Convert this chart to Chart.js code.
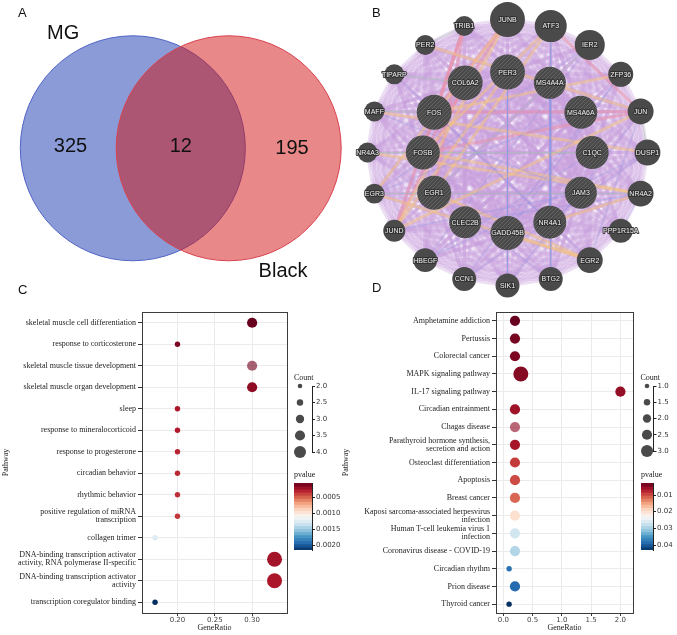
<!DOCTYPE html>
<html>
<head>
<meta charset="utf-8">
<title>Figure</title>
<script src="https://cdn.jsdelivr.net/npm/chart.js@4.4.1/dist/chart.umd.min.js"></script>
<style>
  body { margin: 0; background: #fff; }
  #fig { position: relative; width: 677px; height: 635px; overflow: hidden; background: #fff; }
  #fig canvas { position: absolute; }
  .tag { position: absolute; font: 13px "Liberation Sans", Arial, sans-serif; line-height: 13px; color: #111; }
</style>
</head>
<body>
<div id="fig">
  <canvas id="venn" width="350" height="300" style="left:0;top:0"></canvas>
  <canvas id="net" width="332" height="300" style="left:345px;top:0"></canvas>
  <canvas id="dotC" width="300" height="335" style="left:0;top:300px"></canvas>
  <canvas id="cntC" width="60" height="100" style="left:280px;top:368px"></canvas>
  <canvas id="barC" width="75" height="95" style="left:285px;top:465px"></canvas>
  <canvas id="dotD" width="307" height="335" style="left:338px;top:300px"></canvas>
  <canvas id="cntD" width="50" height="100" style="left:627px;top:368px"></canvas>
  <canvas id="barD" width="45" height="95" style="left:632px;top:465px"></canvas>
  <div class="tag" style="left:18px;top:6px">A</div>
  <div class="tag" style="left:372px;top:6px">B</div>
  <div class="tag" style="left:18px;top:283px">C</div>
  <div class="tag" style="left:372px;top:281px">D</div>
</div>
<script>
// ---- A: venn ----
var vennSets = ['MG', 'Black'];
var vennOnly = [325, 195];
var vennBoth = 12;

// ---- B: gene network (GeneMANIA style, circular layout) ----
var outerGenes = ['JUNB', 'ATF3', 'IER2', 'ZFP36', 'JUN', 'DUSP1', 'NR4A2', 'PPP1R15A', 'EGR2', 'BTG2',
                  'SIK1', 'CCN1', 'HBEGF', 'JUND', 'EGR3', 'NR4A3', 'MAFF', 'TIPARP', 'PER2', 'TRIB1'];
var outerScore = [0.94, 0.78, 0.67, 0.39, 0.44, 0.44, 0.44, 0.33, 0.44, 0.33,
                  0.33, 0.33, 0.33, 0.22, 0.11, 0.11, 0.11, 0.11, 0.11, 0.11];
var innerGenes = ['PER3', 'MS4A4A', 'MS4A6A', 'C1QC', 'JAM3', 'NR4A1', 'GADD45B', 'CLEC2B', 'EGR1', 'FOSB', 'FOS', 'COL6A2'];
var innerScore = [0.94, 0.78, 0.83, 0.83, 0.78, 0.83, 0.89, 0.78, 0.89, 0.89, 0.94, 0.94];

var physicalEdges = [['TRIB1', 'JUND'], ['TRIB1', 'EGR1'], ['FOSB', 'JUN'], ['FOS', 'JUN'], ['JUNB', 'FOSB'],
                     ['COL6A2', 'JUND'], ['ATF3', 'JUN'], ['FOS', 'JUNB'], ['TRIB1', 'FOSB']];
var predictedEdges = [['PER2', 'JUN'], ['JUNB', 'JUND'], ['ATF3', 'EGR1'], ['EGR3', 'EGR2'], ['NR4A3', 'NR4A2'],
                      ['JUND', 'JUN'], ['ATF3', 'FOSB'], ['JUNB', 'EGR3'], ['PER3', 'JUND'], ['NR4A1', 'NR4A2'],
                      ['GADD45B', 'EGR2'], ['FOSB', 'NR4A2'], ['ZFP36', 'FOS'], ['EGR1', 'EGR2'], ['MAFF', 'DUSP1']];
var colocEdges = [['IER2', 'HBEGF'], ['ZFP36', 'CCN1'], ['ATF3', 'BTG2'], ['JUN', 'SIK1'], ['DUSP1', 'CCN1'],
                  ['MS4A4A', 'NR4A1'], ['MS4A6A', 'EGR3'], ['C1QC', 'HBEGF'], ['JAM3', 'JUND'], ['IER2', 'EGR3'],
                  ['NR4A2', 'PPP1R15A'], ['JUN', 'EGR2'], ['PER3', 'SIK1'], ['EGR1', 'BTG2'], ['FOS', 'EGR2'],
                  ['MAFF', 'JAM3'], ['TIPARP', 'NR4A1'], ['DUSP1', 'HBEGF'], ['ZFP36', 'GADD45B'], ['CLEC2B', 'NR4A2']];
var geneticEdges = [['TIPARP', 'COL6A2'], ['MAFF', 'FOS'], ['NR4A3', 'C1QC'], ['EGR3', 'NR4A2'],
                    ['PER2', 'TRIB1'], ['IER2', 'EGR1'], ['JUN', 'DUSP1']];

// ---- C: GO enrichment ----
var pathwaysC = ['skeletal muscle cell differentiation', 'response to corticosterone',
  'skeletal muscle tissue development', 'skeletal muscle organ development', 'sleep',
  'response to mineralocorticoid', 'response to progesterone', 'circadian behavior', 'rhythmic behavior',
  ['positive regulation of miRNA', 'transcription'], 'collagen trimer',
  ['DNA-binding transcription activator', 'activity, RNA polymerase II-specific'],
  ['DNA-binding transcription activator', 'activity'], 'transcription coregulator binding'];
var ratioC = [0.30, 0.20, 0.30, 0.30, 0.20, 0.20, 0.20, 0.20, 0.20, 0.20, 0.17, 0.33, 0.33, 0.17];
var countC = [3, 2, 3, 3, 2, 2, 2, 2, 2, 2, 2, 4, 4, 2];
var pvalC = [0.00006, 0.00012, 0.00010, 0.00017, 0.00025, 0.00027, 0.00030, 0.00032, 0.00034, 0.00036,
             0.00124, 0.00023, 0.00025, 0.00215];
var fadedC = ['skeletal muscle tissue development'];
var countTicksC = [2.0, 2.5, 3.0, 3.5, 4.0];
var pvalTicksC = [0.0005, 0.0010, 0.0015, 0.0020];

// ---- D: KEGG enrichment ----
var pathwaysD = ['Amphetamine addiction', 'Pertussis', 'Colorectal cancer', 'MAPK signaling pathway',
  'IL-17 signaling pathway', 'Circadian entrainment', 'Chagas disease',
  ['Parathyroid hormone synthesis,', 'secretion and action'], 'Osteoclast differentiation', 'Apoptosis',
  'Breast cancer', ['Kaposi sarcoma-associated herpesvirus', 'infection'],
  ['Human T-cell leukemia virus 1', 'infection'], 'Coronavirus disease - COVID-19', 'Circadian rhythm',
  'Prion disease', 'Thyroid cancer'];
var ratioD = [0.2, 0.2, 0.2, 0.3, 2.0, 0.2, 0.2, 0.2, 0.2, 0.2, 0.2, 0.2, 0.2, 0.2, 0.1, 0.2, 0.1];
var countD = [2, 2, 2, 3, 2, 2, 2, 2, 2, 2, 2, 2, 2, 2, 1, 2, 1];
var pvalD = [0.0028, 0.0036, 0.0040, 0.0044, 0.0052, 0.0058, 0.0050, 0.0062, 0.0088, 0.0096, 0.0112,
             0.0197, 0.0268, 0.0289, 0.0380, 0.0385, 0.0430];
var fadedD = ['Chagas disease'];
var countTicksD = [1.0, 1.5, 2.0, 2.5, 3.0];
var pvalTicksD = [0.01, 0.02, 0.03, 0.04];

Chart.defaults.animation = false;
Chart.defaults.responsive = false;
Chart.defaults.layout.autoPadding = false;
Chart.defaults.plugins.legend.display = false;
Chart.defaults.plugins.tooltip.enabled = false;
Chart.defaults.font.family = '"DejaVu Sans"';
Chart.defaults.color = '#333';

// RdBu reversed: small p = dark red
var rdbuStops = ['#67001f', '#b2182b', '#d6604d', '#f4a582', '#fddbc7', '#f7f7f7',
                 '#d1e5f0', '#92c5de', '#4393c3', '#2166ac', '#053061'];
function hexRgb(h) { return [parseInt(h.substr(1, 2), 16), parseInt(h.substr(3, 2), 16), parseInt(h.substr(5, 2), 16)]; }
function rdbu(t, alpha) {
  t = Math.max(0, Math.min(1, t));
  var s = t * 10, i = Math.min(9, Math.floor(s)), f = s - i;
  var a = hexRgb(rdbuStops[i]), b = hexRgb(rdbuStops[i + 1]);
  var c = a.map(function (v, k) { return Math.round(v + (b[k] - v) * f); });
  return 'rgba(' + c[0] + ',' + c[1] + ',' + c[2] + ',' + (alpha == null ? 1 : alpha) + ')';
}

// ================= A =================
var vennText = {
  id: 'vennText',
  afterDatasetsDraw: function (chart, args, o) {
    var xs = chart.scales.x, ys = chart.scales.y, ctx = chart.ctx;
    ctx.save();
    ctx.font = '20px "Liberation Sans"';
    ctx.fillStyle = '#111';
    ctx.textAlign = 'center';
    ctx.textBaseline = 'middle';
    o.items.forEach(function (t) { ctx.fillText(t.text, xs.getPixelForValue(t.x), ys.getPixelForValue(t.y)); });
    ctx.restore();
  }
};

new Chart(document.getElementById('venn'), {
  type: 'scatter',
  data: {
    datasets: [{
      data: vennSets.map(function (s, i) { return {x: i - 0.5, y: 0}; }),
      pointRadius: 112.5,
      backgroundColor: ['rgba(21,55,177,0.5)', 'rgba(209,17,17,0.5)'],
      borderColor: ['#5163c4', '#d8414e'],
      borderWidth: 1,
      clip: false
    }]
  },
  options: {
    layout: {padding: 0},
    scales: {
      x: {display: false, min: -1.885, max: 1.765},
      y: {display: false, min: -1.582, max: 1.546}
    },
    plugins: {
      vennText: {
        items: [
          {text: String(vennOnly[0]), x: -1.15, y: 0.02},
          {text: String(vennBoth), x: 0, y: 0.02},
          {text: String(vennOnly[1]), x: 1.16, y: 0.0},
          {text: vennSets[0], x: -1.227, y: 1.2},
          {text: vennSets[1], x: 1.067, y: -1.289}
        ]
      }
    }
  },
  plugins: [vennText]
});

// ================= B =================
var nodeNames = innerGenes.concat(outerGenes);
var nodePos = {};
var nodeData = [];
innerGenes.forEach(function (g, i) {
  var a = i * 2 * Math.PI / innerGenes.length;
  nodePos[g] = {x: 0.605 * Math.sin(a), y: 0.605 * Math.cos(a)};
});
outerGenes.forEach(function (g, i) {
  var a = i * 2 * Math.PI / outerGenes.length;
  nodePos[g] = {x: Math.sin(a), y: Math.cos(a)};
});
nodeNames.forEach(function (g) { nodeData.push(nodePos[g]); });
var nodeScore = innerScore.concat(outerScore);

function hatch() {
  var c = document.createElement('canvas');
  c.width = c.height = 4;
  var x = c.getContext('2d');
  x.fillStyle = '#4a4a4a';
  x.fillRect(0, 0, 4, 4);
  x.strokeStyle = 'rgba(255,255,255,0.14)';
  x.lineWidth = 1;
  x.beginPath(); x.moveTo(0, 4); x.lineTo(4, 0); x.stroke();
  return x.createPattern(c, 'repeat');
}
var hatchFill = hatch();

function edgeData(pairs) {
  var d = [];
  pairs.forEach(function (p) { d.push(nodePos[p[0]], nodePos[p[1]], {x: null, y: null}); });
  return d;
}
// co-expression mesh links every gene pair
var meshPairs = [];
for (var i = 0; i < nodeNames.length; i++) {
  for (var j = i + 1; j < nodeNames.length; j++) meshPairs.push([nodeNames[i], nodeNames[j]]);
}
function edgeSet(pairs, color, width, order) {
  return {
    data: edgeData(pairs), showLine: true, spanGaps: false, pointRadius: 0,
    borderColor: color, borderWidth: width, order: order, clip: false,
    segment: {borderColor: function () { return undefined; }}
  };
}

var netLabels = {
  id: 'netLabels',
  afterDatasetsDraw: function (chart) {
    var meta = chart.getDatasetMeta(0), ctx = chart.ctx;
    ctx.save();
    ctx.font = '7px "Liberation Sans"';
    ctx.textAlign = 'center';
    ctx.textBaseline = 'middle';
    ctx.lineJoin = 'round';
    meta.data.forEach(function (pt, i) {
      ctx.strokeStyle = 'rgba(45,45,45,0.9)';
      ctx.lineWidth = 2;
      ctx.strokeText(nodeNames[i], pt.x, pt.y + 0.5);
      ctx.fillStyle = '#f2f2f2';
      ctx.fillText(nodeNames[i], pt.x, pt.y + 0.5);
    });
    ctx.restore();
  }
};

new Chart(document.getElementById('net'), {
  type: 'scatter',
  data: {
    datasets: [
      {
        data: nodeData,
        pointRadius: nodeScore.map(function (s) { return 9 + 9 * s; }),
        backgroundColor: nodeNames.map(function (g, i) { return i < innerGenes.length ? hatchFill : '#4a4a4a'; }),
        borderWidth: 0, order: 0, clip: false
      },
      edgeSet(geneticEdges, 'rgba(150,205,160,0.5)', 1, 1),
      edgeSet(colocEdges, 'rgba(125,150,230,0.4)', 0.9, 2),
      edgeSet(predictedEdges, 'rgba(248,200,125,0.5)', 3, 3),
      edgeSet(physicalEdges, 'rgba(245,140,150,0.4)', 3, 4),
      edgeSet(meshPairs, 'rgba(198,158,220,0.34)', 3.6, 9)
    ]
  },
  options: {
    layout: {padding: 0},
    scales: {
      x: {display: false, min: -1.161, max: 1.211},
      y: {display: false, min: -1.109, max: 1.147}
    }
  },
  plugins: [netLabels]
});

// ================= C / D =================
var framePlugin = {
  id: 'frame',
  afterDatasetsDraw: function (chart) {
    var a = chart.chartArea, ctx = chart.ctx;
    ctx.save();
    ctx.strokeStyle = '#3c3c3c';
    ctx.lineWidth = 1;
    ctx.strokeRect(Math.round(a.left) + 0.5, Math.round(a.top) + 0.5,
                   Math.round(a.right - a.left), Math.round(a.bottom - a.top));
    ctx.restore();
  }
};
var legendTitle = {
  id: 'legendTitle',
  afterDraw: function (chart, args, o) {
    var a = chart.chartArea, ctx = chart.ctx;
    ctx.save();
    ctx.font = '8px "Liberation Serif"';
    ctx.fillStyle = '#222';
    ctx.textAlign = 'left';
    ctx.textBaseline = 'middle';
    ctx.fillText(o.text, a.left + o.dx, a.top + o.dy);
    ctx.restore();
  }
};
function keepInside(s) {
  s.ticks = s.ticks.filter(function (t) { return t.value >= s.min - 1e-9 && t.value <= s.max + 1e-9; });
}
var serif8 = {family: 'Liberation Serif', size: 8, lineHeight: 1};
var sans7 = {family: 'DejaVu Sans', size: 7};

function dotPlot(id, labels, ratio, count, pval, faded, o) {
  var pmin = Math.min.apply(null, pval), pmax = Math.max.apply(null, pval);
  var cmin = Math.min.apply(null, count);
  return new Chart(document.getElementById(id), {
    type: 'scatter',
    data: {
      labels: labels,
      datasets: [{
        data: ratio.map(function (v, i) { return {x: v, y: i}; }),
        pointRadius: count.map(function (c) { return 2.7 + 2.4 * (c - cmin); }),
        backgroundColor: pval.map(function (p, i) {
          return rdbu((p - pmin) / (pmax - pmin), faded.indexOf(labels[i]) >= 0 ? 0.63 : 1);
        }),
        borderWidth: 0, clip: false
      }]
    },
    options: {
      layout: {padding: o.pad},
      scales: {
        x: {
          type: 'linear', min: o.xmin, max: o.xmax,
          ticks: {stepSize: o.step, includeBounds: false, padding: 0, color: '#444', font: sans7,
                  callback: function (v) { return v.toFixed(o.digits); }},
          afterBuildTicks: keepInside,
          grid: {color: '#ebebeb', tickColor: '#333', tickLength: 3},
          border: {display: false},
          title: {display: true, text: 'GeneRatio', color: '#222', font: serif8, padding: {top: 0, bottom: 3}},
          afterFit: function (s) { s.height = 22; }
        },
        y: {
          type: 'category', labels: labels, offset: true,
          ticks: {padding: 2, color: '#222', font: serif8, autoSkip: false},
          grid: {color: '#ebebeb', tickColor: '#333', tickLength: 4, offset: false},
          border: {display: false},
          title: {display: true, text: 'Pathway', color: '#222', font: serif8, padding: {top: o.ytitle, bottom: 0}},
          afterFit: function (s) { s.width = o.yw; }
        }
      }
    },
    plugins: [framePlugin]
  });
}

function countLegend(id, values, pad, yw, dx) {
  var lo = values[0], hi = values[values.length - 1];
  return new Chart(document.getElementById(id), {
    type: 'scatter',
    data: {
      datasets: [{
        data: values.map(function (v) { return {x: 0, y: v}; }),
        pointRadius: values.map(function (v) { return 2.3 + 3.7 * (v - lo) / (hi - lo); }),
        backgroundColor: '#4a4a4a', borderWidth: 0, clip: false
      }]
    },
    options: {
      layout: {padding: pad},
      scales: {
        x: {display: false, min: -1, max: 1},
        y: {
          position: 'right', reverse: true, min: lo, max: hi,
          afterBuildTicks: function (s) { s.ticks = values.map(function (v) { return {value: v}; }); },
          ticks: {padding: 1, color: '#333', font: sans7, callback: function (v) { return v.toFixed(1); }},
          grid: {display: true, drawOnChartArea: false, tickLength: 3, tickColor: '#222'},
          border: {display: true, color: '#222'},
          afterFit: function (s) { s.width = yw; }
        }
      },
      plugins: {legendTitle: {text: 'Count', dx: dx, dy: -8}}
    },
    plugins: [legendTitle]
  });
}

function colorBar(id, pval, ticks, digits, pad, yw) {
  var pmin = Math.min.apply(null, pval), pmax = Math.max.apply(null, pval);
  var n = 22, step = (pmax - pmin) / n, sets = [];
  for (var k = 0; k < n; k++) {
    sets.push({
      data: [[pmin + k * step, pmin + (k + 1.05) * step]],
      backgroundColor: rdbu((k + 0.5) / n),
      borderWidth: 0, grouped: false, barPercentage: 1, categoryPercentage: 1
    });
  }
  return new Chart(document.getElementById(id), {
    type: 'bar',
    data: {labels: ['pvalue'], datasets: sets},
    options: {
      layout: {padding: pad},
      scales: {
        x: {display: false},
        y: {
          position: 'right', reverse: true, min: pmin, max: pmax,
          afterBuildTicks: function (s) { s.ticks = ticks.map(function (v) { return {value: v}; }); },
          ticks: {padding: 1, color: '#333', font: sans7, callback: function (v) { return v.toFixed(digits); }},
          grid: {display: true, drawOnChartArea: false, tickLength: 3, tickColor: '#222'},
          border: {display: true, color: '#222'},
          afterFit: function (s) { s.width = yw; }
        }
      },
      plugins: {legendTitle: {text: 'pvalue', dx: 0, dy: -8}}
    },
    plugins: [legendTitle]
  });
}

dotPlot('dotC', pathwaysC, ratioC, countC, pvalC, fadedC,
  {pad: {left: 0, right: 13, top: 12, bottom: 0}, xmin: 0.1525, xmax: 0.3467, step: 0.05, digits: 2, yw: 142, ytitle: 2});
countLegend('cntC', countTicksC, {left: 8, right: 0, top: 18, bottom: 16}, 28, 6);
colorBar('barC', pvalC, pvalTicksC, 4, {left: 9, right: 0, top: 18, bottom: 10}, 48);

dotPlot('dotD', pathwaysD, ratioD, countD, pvalD, fadedD,
  {pad: {left: 0, right: 12, top: 12, bottom: 0}, xmin: -0.124, xmax: 2.215, step: 0.5, digits: 1, yw: 158, ytitle: 4});
countLegend('cntD', countTicksD, {left: 13.5, right: 0, top: 18, bottom: 17}, 23.5, 0);
colorBar('barD', pvalD, pvalTicksD, 2, {left: 9, right: 0, top: 18, bottom: 10}, 24);
</script>
</body>
</html>
